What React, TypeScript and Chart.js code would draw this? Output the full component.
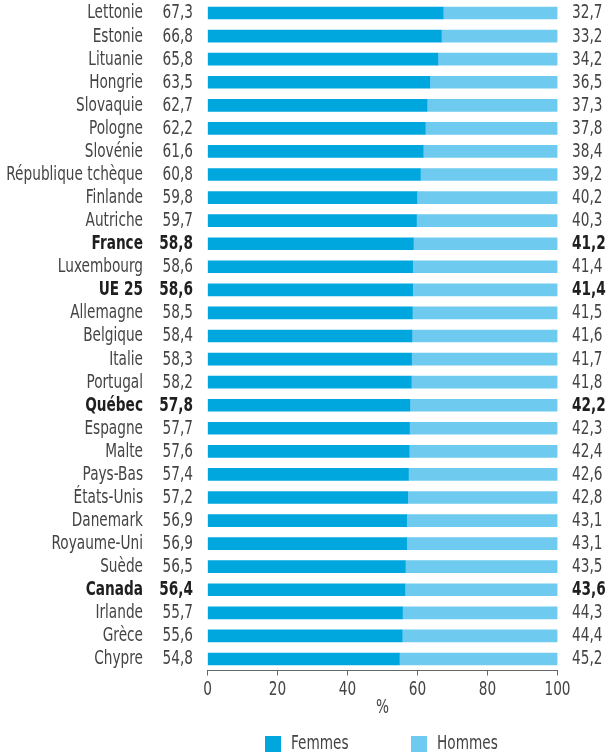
import React, { useEffect, useRef } from "react";
import { Chart, registerables } from "chart.js";

Chart.register(...registerables);

const countries = [
  "Lettonie", "Estonie", "Lituanie", "Hongrie", "Slovaquie", "Pologne", "Slovénie",
  "République tchèque", "Finlande", "Autriche", "France", "Luxembourg", "UE 25",
  "Allemagne", "Belgique", "Italie", "Portugal", "Québec", "Espagne", "Malte",
  "Pays-Bas", "États-Unis", "Danemark", "Royaume-Uni", "Suède", "Canada",
  "Irlande", "Grèce", "Chypre",
];
const femmes = [
  67.3, 66.8, 65.8, 63.5, 62.7, 62.2, 61.6, 60.8, 59.8, 59.7, 58.8, 58.6, 58.6,
  58.5, 58.4, 58.3, 58.2, 57.8, 57.7, 57.6, 57.4, 57.2, 56.9, 56.9, 56.5, 56.4,
  55.7, 55.6, 54.8,
];
const hommes = [
  32.7, 33.2, 34.2, 36.5, 37.3, 37.8, 38.4, 39.2, 40.2, 40.3, 41.2, 41.4, 41.4,
  41.5, 41.6, 41.7, 41.8, 42.2, 42.3, 42.4, 42.6, 42.8, 43.1, 43.1, 43.5, 43.6,
  44.3, 44.4, 45.2,
];
const boldRows = ["France", "UE 25", "Québec", "Canada"];
const xTicks = [0, 20, 40, 60, 80, 100];

const FONT = "'Liberation Sans Narrow', 'DejaVu Sans Condensed', 'Roboto Condensed', sans-serif";
const C_F = "#00A7DF";
const C_H = "#6ECBEF";
const TXT = "#444444";
const TXT_B = "#1f1f1f";
const SQUEEZE = 0.8;

const fmt = (v: number) => v.toFixed(1).replace(".", ",");

function txt(ctx: CanvasRenderingContext2D, s: string, x: number, y: number) {
  const w = ctx.measureText(s).width;
  ctx.fillText(s, x, y, w * SQUEEZE);
}

const labelsPlugin = {
  id: "sideLabels",
  afterDraw(chart: any) {
    const ctx = chart.ctx;
    const y = chart.scales.y;
    const x = chart.scales.x;
    ctx.save();
    ctx.textBaseline = "middle";
    countries.forEach((c, i) => {
      const py = y.getPixelForValue(i) + 0.5;
      const bold = boldRows.includes(c);
      ctx.font = `${bold ? "bold " : ""}19px ${FONT}`;
      ctx.fillStyle = bold ? TXT_B : TXT;
      ctx.textAlign = "right";
      txt(ctx, c, 143, py);
      txt(ctx, fmt(femmes[i]), 193, py);
      ctx.textAlign = "left";
      txt(ctx, fmt(hommes[i]), 572, py);
    });
    ctx.font = `19px ${FONT}`;
    ctx.fillStyle = TXT;
    // x tick labels
    ctx.textAlign = "center";
    xTicks.forEach((v) => {
      txt(ctx, String(v), x.getPixelForValue(v), 690);
    });
    // axis title
    txt(ctx, "%", (x.left + x.right) / 2, 708);
    // legend
    const items = [
      { label: "Femmes", color: C_F, bx: 265 },
      { label: "Hommes", color: C_H, bx: 411 },
    ];
    items.forEach((it) => {
      ctx.fillStyle = it.color;
      ctx.fillRect(it.bx, 736, 16, 16);
      ctx.fillStyle = TXT;
      ctx.textAlign = "left";
      txt(ctx, it.label, it.bx + 26, 744);
    });
    ctx.restore();
  },
};

export default function App() {
  const ref = useRef<HTMLCanvasElement | null>(null);
  useEffect(() => {
    if (!ref.current) return;
    const chart = new Chart(ref.current, {
      type: "bar",
      data: {
        labels: countries,
        datasets: [
          { label: "Femmes", data: femmes, backgroundColor: C_F, barThickness: 12 },
          { label: "Hommes", data: hommes, backgroundColor: C_H, barThickness: 12 },
        ],
      },
      options: {
        indexAxis: "y",
        animation: false,
        responsive: true,
        maintainAspectRatio: false,
        layout: { padding: { top: 1.5, left: 207.5, right: 51.5, bottom: 0 } },
        plugins: { legend: { display: false }, tooltip: { enabled: false } },
        scales: {
          y: { stacked: true, display: false, offset: true },
          x: {
            stacked: true,
            min: 0,
            max: 100,
            afterBuildTicks: (scale: any) => {
              scale.ticks = xTicks.map((v) => ({ value: v }));
            },
            afterFit: (scale: any) => {
              scale.height = 83.5;
            },
            grid: { drawOnChartArea: false, tickLength: 5, color: "#666", lineWidth: 1 },
            border: { color: "#666", width: 1 },
            ticks: { display: false },
          },
        },
      },
      plugins: [labelsPlugin],
    });
    return () => chart.destroy();
  }, []);
  return (
    <div style={{ position: "absolute", left: 0, top: 0, width: 609, height: 754, background: "#fff" }}>
      <canvas ref={ref} />
    </div>
  );
}
